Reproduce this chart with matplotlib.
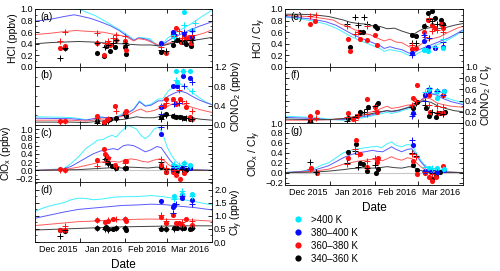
# chlorine partitioning, POLSTRACC winter 2015/16
import matplotlib.pyplot as plt
from matplotlib.lines import Line2D
from matplotlib.ticker import FixedLocator, MultipleLocator, NullFormatter

plt.rcParams['font.family'] = ['Liberation Sans', 'DejaVu Sans']
plt.rcParams['mathtext.default'] = 'regular'

# x axis: days since 1 Dec 2015
month_ticks = [31, 62, 91]
month_label_pos = [16, 47, 77, 107]
month_labels = ['Dec 2015', 'Jan 2016', 'Feb 2016', 'Mar 2016']
bins = ['>400 K', '380–400 K', '360–380 K', '340–360 K']

# ---- (a) HCl (ppbv) ----
a_line_cyan = [(0, 1.15), (15, 1.2), (25, 1.1), (28, 1.0), (31, 0.99), (36, 0.94), (42, 0.88), (49, 0.78), (55, 0.69),
               (59, 0.63), (65, 0.53), (69, 0.46), (72, 0.51), (75, 0.5), (79, 0.49), (84, 0.38), (88, 0.38),
               (91, 0.49), (95, 0.56), (101, 0.65), (108, 0.75), (115, 0.87), (122, 0.98)]
a_line_blue = [(0, 0.79), (10, 0.82), (20, 0.87), (27, 0.9), (31, 0.88), (38, 0.84), (45, 0.78), (52, 0.71), (58, 0.63),
               (63, 0.54), (68, 0.46), (71, 0.5), (75, 0.49), (79, 0.46), (84, 0.37), (88, 0.37), (91, 0.44),
               (95, 0.5), (100, 0.56), (106, 0.63), (113, 0.7), (122, 0.78)]
a_line_red = [(0, 0.56), (10, 0.58), (20, 0.61), (28, 0.63), (33, 0.62), (40, 0.61), (47, 0.6), (53, 0.57), (58, 0.55),
              (63, 0.52), (68, 0.45), (71, 0.49), (76, 0.47), (80, 0.43), (85, 0.38), (88, 0.37), (92, 0.41),
              (97, 0.45), (103, 0.5), (110, 0.54), (116, 0.58), (122, 0.64)]
a_line_black = [(0, 0.4), (10, 0.42), (20, 0.43), (30, 0.44), (40, 0.43), (50, 0.41), (60, 0.4), (66, 0.39), (72, 0.38),
                (80, 0.38), (86, 0.36), (90, 0.38), (96, 0.42), (104, 0.45), (112, 0.47), (122, 0.51)]
a_dot_cyan = [(95, 0.53), (103, 0.95), (108, 0.64)]
a_dot_blue = [(87, 0.42), (95, 0.6), (96, 0.55), (103, 0.57), (108, 0.52)]
a_dot_red = [(17, 0.32), (21, 0.37), (42.5, 0.42), (47.5, 0.2), (50, 0.4), (52, 0.38), (55.7, 0.46), (62, 0.44),
             (63, 0.3), (90, 0.25), (95, 0.57), (97, 0.67), (100.5, 0.43), (104, 0.49), (106, 0.51), (107.3, 0.42)]
a_dot_black = [(20.5, 0.32), (42.5, 0.25), (47.5, 0.19), (49, 0.37), (51.6, 0.28), (55, 0.34), (62, 0.34), (63, 0.22),
               (86.6, 0.26), (95, 0.38), (98, 0.47), (101, 0.43), (104, 0.4), (107.3, 0.49), (107.5, 0.36)]
a_plus_cyan = [(96, 0.52), (103, 0.72), (110, 0.76)]
a_plus_blue = [(96, 0.57), (103, 0.6), (108, 0.62)]
a_plus_red = [(17, 0.44), (21, 0.6), (42.5, 0.58), (48, 0.42), (50, 0.45), (54, 0.5), (56, 0.55), (62, 0.53),
              (87, 0.35), (96, 0.53), (99, 0.62), (101, 0.5), (104, 0.52), (108, 0.55)]
a_plus_black = [(17, 0.15), (21, 0.33), (42.5, 0.42), (48, 0.35), (50, 0.38), (54, 0.42), (56, 0.47), (62, 0.42),
                (63, 0.38), (87, 0.3), (90, 0.27), (96, 0.44), (99, 0.47), (101, 0.45), (104, 0.46), (108, 0.47)]

# ---- (b) ClONO2 (ppbv) ----
b_line_cyan = [(0, 0.17), (20, 0.16), (28, 0.145), (35, 0.11), (40, 0.1), (45, 0.17), (50, 0.14), (55, 0.15),
               (60, 0.23), (63, 0.24), (68, 0.33), (72, 0.5), (76, 0.4), (80, 0.43), (85, 0.54), (88, 0.54),
               (92, 0.71), (96, 0.79), (100, 0.85), (104, 0.79), (108, 0.68), (113, 0.57), (118, 0.47), (122, 0.42)]
b_line_blue = [(0, 0.14), (25, 0.13), (35, 0.1), (45, 0.16), (55, 0.15), (63, 0.23), (68, 0.32), (72, 0.48),
               (76, 0.39), (80, 0.41), (85, 0.5), (88, 0.5), (92, 0.6), (96, 0.66), (100, 0.7), (104, 0.67),
               (108, 0.6), (113, 0.52), (118, 0.46), (122, 0.42)]
b_line_red = [(0, 0.1), (25, 0.1), (35, 0.08), (45, 0.12), (55, 0.14), (60, 0.18), (65, 0.22), (70, 0.3), (73, 0.33),
              (77, 0.27), (82, 0.3), (86, 0.35), (90, 0.37), (95, 0.44), (100, 0.45), (105, 0.4), (110, 0.35),
              (116, 0.3), (122, 0.26)]
b_line_black = [(0, 0.06), (25, 0.06), (35, 0.05), (45, 0.08), (55, 0.1), (62, 0.12), (70, 0.17), (75, 0.15),
                (82, 0.15), (88, 0.19), (94, 0.2), (100, 0.19), (106, 0.16), (114, 0.12), (122, 0.1)]
b_dot_cyan = [(97, 1.12), (98, 0.9), (102, 1.11), (107, 1.12)]
b_dot_blue = [(87, 0.37), (95, 0.81), (98, 0.81), (102, 1.02), (107, 0.97)]
b_dot_red = [(17, 0.08), (21, 0.09), (42.5, 0.19), (47.5, 0.06), (50, 0.12), (55, 0.4), (62, 0.24), (63, 0.3),
             (89, 0.4), (90, 0.54), (95, 0.54), (97.5, 0.43), (100, 0.54), (104, 0.37), (107, 0.16), (108.5, 0.12)]
b_dot_black = [(42.5, 0.08), (47.5, 0.03), (50, 0.1), (52, 0.12), (55.7, 0.14), (62, 0.24), (63, 0.19), (87, 0.16),
               (90, 0.23), (95, 0.19), (97, 0.16), (100, 0.16), (103, 0.14), (107, 0.12)]
b_plus_cyan = [(97, 0.93), (102, 1.12), (108, 0.7)]
b_plus_blue = [(87, 0.22), (96, 0.43), (99, 0.45), (103, 0.8), (108, 0.9)]
b_plus_red = [(17, 0.07), (21, 0.09), (42.5, 0.14), (48, 0.08), (50, 0.12), (56, 0.28), (62, 0.22), (87, 0.4),
              (90, 0.45), (96, 0.5), (99, 0.72), (101, 0.5), (104, 0.45), (108, 0.3)]
b_plus_black = [(42.5, 0.05), (50, 0.08), (56, 0.12), (62, 0.2), (87, 0.12), (88, 0.18), (90, 0.2), (96, 0.18),
                (101, 0.15), (104, 0.15), (108, 0.12)]

# ---- (c) ClOx (ppbv) ----
c_line_cyan = [(0, 0.0), (10, 0.02), (20, 0.05), (25, 0.17), (30, 0.33), (35, 0.53), (40, 0.65), (43, 0.73),
               (47, 0.75), (50, 0.81), (53, 0.85), (56, 0.81), (59, 0.93), (62, 1.02), (64, 1.09), (67, 1.05),
               (70, 1.0), (73, 0.85), (76, 0.77), (79, 0.85), (82, 1.0), (85, 1.05), (88, 0.89), (91, 0.57),
               (94, 0.37), (97, 0.22), (100, 0.14), (105, 0.05), (110, 0.02), (122, 0.0)]
c_line_blue = [(0, 0.0), (15, 0.02), (20, 0.04), (25, 0.1), (30, 0.2), (35, 0.3), (40, 0.4), (45, 0.47), (50, 0.5),
               (54, 0.53), (57, 0.5), (61, 0.6), (64, 0.62), (68, 0.6), (72, 0.53), (76, 0.45), (80, 0.5),
               (84, 0.58), (87, 0.55), (90, 0.4), (93, 0.25), (96, 0.13), (100, 0.06), (106, 0.02), (122, 0.0)]
c_line_red = [(0, 0.0), (20, 0.02), (25, 0.05), (30, 0.08), (35, 0.12), (40, 0.16), (45, 0.2), (50, 0.22),
              (54, 0.22), (58, 0.2), (62, 0.25), (66, 0.28), (70, 0.26), (74, 0.22), (78, 0.2), (82, 0.25),
              (86, 0.28), (89, 0.24), (92, 0.14), (96, 0.06), (100, 0.02), (122, 0.0)]
c_line_black = [(0, 0.0), (30, 0.02), (40, 0.04), (50, 0.06), (55, 0.07), (60, 0.06), (65, 0.08), (72, 0.07),
                (78, 0.06), (84, 0.08), (88, 0.07), (92, 0.03), (98, 0.01), (122, 0.0)]
c_dot_cyan = [(95, 0.14), (98, 0.09), (103, 0.17), (107, 0.13)]
c_dot_blue = [(87, 0.89), (95, 0.03), (98, 0.05), (101.5, 0.06), (107, 0.05)]
c_dot_red = [(17, 0.04), (21, 0.0), (42.5, 0.25), (47.5, 0.51), (48.4, 0.41), (50, 0.3), (55, 0.13), (62, 0.22),
             (63, 0.22), (87, 0.13), (90, -0.03), (95, -0.03), (97, -0.11), (100, -0.2), (103, -0.07)]
c_dot_black = [(49, 0.27), (50, 0.17), (53, 0.11), (56, 0.05), (62, 0.05), (63, 0.07), (87, 0.09), (90, -0.03),
               (95, 0.01), (98, -0.02), (104, 0.01), (107, 0.05)]
c_plus_cyan = [(96, 0.15), (99, 0.12), (103, 0.17), (107, 0.1)]
c_plus_blue = [(87, 1.06), (96, 0.1), (99, 0.05), (103, 0.1)]
c_plus_red = [(17, 0.02), (21, 0.0), (42.5, 0.1), (48, 0.2), (50, 0.33), (56, 0.1), (62, 0.18), (87, 0.27),
              (90, 0.05), (96, 0.02), (99, 0.0)]
c_plus_black = [(48, 0.27), (50, 0.15), (55, 0.07), (62, 0.06), (87, 0.2), (90, 0.03), (96, 0.03), (101, 0.03)]

# ---- (d) Cly (ppbv) ----
d_line_cyan = [(0, 1.17), (5, 1.29), (10, 1.38), (20, 1.51), (25, 1.62), (30, 1.68), (35, 1.67), (40, 1.62),
               (45, 1.64), (55, 1.72), (63, 1.74), (70, 1.74), (80, 1.78), (88, 1.74), (95, 1.68), (100, 1.64),
               (110, 1.55), (122, 1.42)]
d_line_blue = [(0, 0.91), (10, 1.03), (20, 1.15), (30, 1.25), (40, 1.3), (50, 1.35), (60, 1.4), (70, 1.42),
               (80, 1.45), (90, 1.43), (100, 1.37), (110, 1.32), (122, 1.23)]
d_line_red = [(0, 0.63), (10, 0.68), (20, 0.73), (30, 0.78), (40, 0.8), (50, 0.83), (60, 0.85), (70, 0.87),
              (80, 0.88), (90, 0.87), (100, 0.86), (110, 0.84), (122, 0.8)]
d_line_black = [(0, 0.46), (20, 0.5), (40, 0.54), (60, 0.58), (80, 0.6), (100, 0.62), (122, 0.62)]
d_dot_cyan = [(96, 1.75), (101, 1.85), (108, 1.85)]
d_dot_blue = [(87, 1.58), (95, 1.35), (96, 1.4), (101, 1.7), (108, 1.62)]
d_dot_red = [(17, 0.45), (21, 0.47), (42.5, 0.85), (48, 0.78), (50, 0.82), (54, 0.88), (62, 0.88), (63, 0.82),
             (87, 0.97), (90, 0.72), (95, 1.03), (97, 0.72), (99, 0.72), (101, 0.65), (104, 0.9), (108, 0.65)]
d_dot_black = [(17, 0.45), (21, 0.42), (42.5, 0.55), (48, 0.55), (49, 0.58), (50, 0.5), (54, 0.5), (56, 0.55),
               (62, 0.55), (63, 0.47), (87, 0.5), (90, 0.5), (96, 0.55), (98, 0.55), (101, 0.55), (103, 0.55),
               (107, 0.5), (108, 0.55)]
d_plus_cyan = [(96, 1.65), (101, 1.95), (108, 1.75)]
d_plus_blue = [(95, 1.1), (97, 1.45), (101, 1.75), (108, 1.45)]
d_plus_red = [(21, 0.62), (42.5, 0.85), (50, 0.85), (56, 0.88), (62, 0.9), (87, 1.05), (90, 0.8), (95, 1.1),
              (101, 0.75), (108, 0.82)]
d_plus_black = [(17, 0.22), (21, 0.45), (42.5, 0.53), (48, 0.5), (50, 0.45), (56, 0.55), (62, 0.55), (87, 0.55),
                (90, 0.5), (96, 0.5), (101, 0.55), (108, 0.55)]

# ---- (e) HCl / Cly ----
e_line_cyan = [(0, 0.86), (10, 0.83), (20, 0.79), (28, 0.74), (35, 0.67), (40, 0.6), (45, 0.53), (50, 0.47),
               (55, 0.42), (60, 0.37), (65, 0.32), (68, 0.27), (72, 0.3), (76, 0.28), (80, 0.26), (85, 0.2),
               (88, 0.19), (92, 0.25), (96, 0.3), (100, 0.34), (106, 0.4), (112, 0.47), (118, 0.56), (122, 0.62)]
e_line_blue = [(0, 0.87), (10, 0.85), (20, 0.82), (28, 0.78), (35, 0.72), (40, 0.65), (45, 0.58), (50, 0.52),
               (55, 0.47), (60, 0.42), (65, 0.37), (68, 0.32), (72, 0.35), (76, 0.32), (80, 0.3), (85, 0.24),
               (88, 0.24), (92, 0.3), (96, 0.34), (100, 0.38), (106, 0.44), (112, 0.5), (118, 0.58), (122, 0.64)]
e_line_red = [(0, 0.89), (10, 0.88), (20, 0.86), (28, 0.83), (33, 0.81), (38, 0.74), (43, 0.7), (48, 0.64),
              (53, 0.58), (58, 0.56), (63, 0.5), (68, 0.45), (72, 0.48), (76, 0.43), (80, 0.42), (85, 0.35),
              (88, 0.33), (92, 0.37), (96, 0.44), (100, 0.48), (106, 0.52), (112, 0.6), (118, 0.67), (122, 0.7)]
e_line_black = [(0, 0.91), (10, 0.91), (20, 0.9), (30, 0.87), (40, 0.81), (45, 0.77), (50, 0.75), (55, 0.74),
                (60, 0.71), (65, 0.7), (70, 0.66), (75, 0.67), (80, 0.62), (85, 0.58), (88, 0.56), (91, 0.61),
                (95, 0.66), (100, 0.68), (105, 0.66), (110, 0.68), (116, 0.72), (122, 0.75)]
e_dot_cyan = [(95, 0.29), (98, 0.27), (108, 0.32)]
e_dot_blue = [(86.8, 0.24), (95.2, 0.44), (98.2, 0.35), (102.7, 0.32), (108, 0.35)]
e_dot_red = [(17, 0.75), (20.3, 0.79), (43, 0.49), (44.5, 0.28), (51.4, 0.49), (56, 0.47), (61.6, 0.55),
             (62.8, 0.38), (86.8, 0.31), (89.7, 0.33), (95.2, 0.61), (98.2, 0.81), (100.5, 0.72), (102.7, 0.67),
             (107, 0.75), (108.4, 0.68)]
e_dot_black = [(44.5, 0.35), (51.4, 0.61), (53.6, 0.6), (61.6, 0.7), (62.8, 0.68), (86.8, 0.55), (89.7, 0.53),
               (95.2, 0.7), (98.2, 0.93), (100.5, 0.97), (102.7, 0.84), (107, 0.81), (108.4, 0.75)]
e_plus_cyan = [(96, 0.32), (103, 0.35), (108, 0.48)]
e_plus_blue = [(87, 0.2), (95, 0.55), (99, 0.5), (108, 0.43)]
e_plus_red = [(17, 0.88), (21, 0.9), (42.5, 0.7), (48, 0.57), (50, 0.6), (56, 0.7), (87, 0.38), (96, 0.52),
              (99, 0.85), (101, 0.62), (104, 0.63), (108, 0.6)]
e_plus_black = [(42.5, 0.74), (48, 0.87), (50, 0.72), (54, 0.87), (56, 0.74), (87, 0.42), (90, 0.42), (96, 0.7),
                (99, 0.82), (101, 0.8), (104, 0.75), (108, 0.72)]

# ---- (f) ClONO2 / Cly ----
f_line_cyan = [(0, 0.12), (20, 0.1), (30, 0.07), (40, 0.05), (45, 0.06), (50, 0.08), (55, 0.1), (60, 0.13),
               (65, 0.16), (70, 0.19), (73, 0.17), (78, 0.2), (84, 0.25), (88, 0.27), (92, 0.35), (96, 0.45),
               (100, 0.53), (104, 0.52), (108, 0.47), (114, 0.42), (122, 0.36)]
f_line_blue = [(0, 0.1), (20, 0.08), (30, 0.06), (40, 0.06), (45, 0.08), (50, 0.1), (55, 0.12), (60, 0.15),
               (65, 0.19), (70, 0.22), (73, 0.2), (78, 0.22), (84, 0.28), (88, 0.3), (92, 0.38), (96, 0.47),
               (100, 0.52), (104, 0.5), (108, 0.44), (114, 0.38), (122, 0.33)]
f_line_red = [(0, 0.05), (20, 0.05), (30, 0.06), (40, 0.08), (45, 0.1), (50, 0.13), (55, 0.18), (60, 0.2),
              (65, 0.25), (70, 0.3), (73, 0.26), (78, 0.28), (84, 0.32), (88, 0.33), (92, 0.38), (96, 0.45),
              (100, 0.43), (104, 0.36), (108, 0.33), (114, 0.3), (122, 0.28)]
f_line_black = [(0, 0.07), (20, 0.06), (30, 0.06), (40, 0.08), (45, 0.1), (50, 0.12), (55, 0.15), (60, 0.17),
                (65, 0.2), (70, 0.22), (73, 0.21), (78, 0.23), (84, 0.27), (88, 0.31), (92, 0.36), (95, 0.4),
                (100, 0.37), (105, 0.3), (110, 0.26), (116, 0.22), (122, 0.2)]
f_dot_cyan = [(99, 0.6), (104, 0.57), (104.5, 0.44), (109, 0.57)]
f_dot_blue = [(88, 0.18), (96, 0.5), (99, 0.58), (104, 0.58), (109, 0.58)]
f_dot_red = [(17, 0.12), (21.7, 0.2), (43, 0.18), (46.8, 0.07), (49.5, 0.13), (56, 0.42), (62, 0.29), (62.8, 0.2),
             (88, 0.44), (90.6, 0.67), (96, 0.5), (99, 0.5), (99.5, 0.2), (105, 0.18), (108, 0.5), (108.4, 0.18)]
f_dot_black = [(17, 0.03), (43, 0.09), (51.4, 0.19), (57, 0.29), (63.5, 0.36), (88, 0.26), (90.6, 0.38),
               (96.6, 0.26), (99, 0.12), (103.4, 0.1), (106, 0.18), (109.5, 0.2)]
f_plus_cyan = [(96, 0.55), (99, 0.6), (104, 0.55), (108, 0.55)]
f_plus_blue = [(87, 0.12), (88, 0.16), (96, 0.4), (99, 0.62), (104, 0.58), (108, 0.5)]
f_plus_red = [(17, 0.08), (21, 0.09), (42.5, 0.1), (48, 0.06), (50, 0.12), (56, 0.16), (62, 0.22), (87, 0.32),
              (90, 0.4), (99, 0.33), (104, 0.3), (108, 0.28)]
f_plus_black = [(17, 0.01), (42.5, 0.04), (48, 0.1), (50, 0.14), (54, 0.2), (56, 0.25), (62, 0.3), (87, 0.28),
                (90, 0.35), (96, 0.32), (101, 0.2), (104, 0.18), (108, 0.16)]

# ---- (g) ClOx / Cly ----
g_line_cyan = [(0, 0.0), (10, 0.02), (20, 0.08), (25, 0.15), (30, 0.2), (35, 0.3), (40, 0.4), (45, 0.45),
               (50, 0.48), (55, 0.5), (60, 0.52), (63, 0.53), (66, 0.5), (70, 0.58), (73, 0.62), (76, 0.55),
               (80, 0.52), (84, 0.57), (87, 0.55), (90, 0.4), (93, 0.25), (96, 0.14), (100, 0.08), (105, 0.03),
               (110, 0.01), (122, 0.0)]
g_line_blue = [(0, 0.0), (10, 0.02), (20, 0.05), (30, 0.14), (35, 0.22), (40, 0.3), (45, 0.36), (50, 0.4),
               (55, 0.42), (60, 0.45), (63, 0.43), (67, 0.42), (70, 0.47), (73, 0.52), (76, 0.47), (80, 0.42),
               (84, 0.47), (87, 0.48), (90, 0.35), (93, 0.22), (96, 0.12), (100, 0.06), (105, 0.02), (122, 0.0)]
g_line_red = [(0, 0.0), (10, 0.01), (20, 0.03), (30, 0.07), (35, 0.12), (40, 0.17), (45, 0.2), (50, 0.23),
              (55, 0.25), (60, 0.27), (63, 0.25), (67, 0.24), (70, 0.28), (73, 0.32), (76, 0.28), (80, 0.25),
              (84, 0.3), (87, 0.28), (90, 0.2), (93, 0.12), (96, 0.06), (100, 0.02), (122, 0.0)]
g_line_black = [(0, 0.0), (20, 0.01), (30, 0.03), (40, 0.06), (45, 0.08), (50, 0.09), (55, 0.1), (60, 0.09),
                (65, 0.1), (70, 0.12), (75, 0.1), (80, 0.09), (85, 0.12), (88, 0.11), (92, 0.05), (96, 0.02),
                (100, 0.01), (122, 0.0)]
g_dot_cyan = [(99, 0.1), (104, 0.1), (109, 0.07)]
g_dot_blue = [(88, 0.55), (96, 0.03), (99, 0.05), (104, 0.02), (109, 0.05)]
g_dot_red = [(17.8, 0.1), (21.7, -0.01), (43, 0.29), (49, 0.65), (51.4, 0.37), (56, 0.12), (62.8, 0.22),
             (64, 0.29), (88, 0.24), (90.6, -0.02), (96, 0.0), (99, -0.08), (100.5, -0.17), (103.4, -0.08),
             (108.4, 0.14)]
g_dot_black = [(43, 0.41), (49, 0.58), (51.4, 0.2), (53.6, 0.17), (56, 0.03), (62.3, 0.0), (64, 0.08), (88, 0.15),
               (90.6, 0.05), (96, 0.01), (100.5, -0.12), (103.4, -0.07), (106, 0.02)]
g_plus_cyan = [(96, 0.12), (101, 0.1), (108, 0.08)]
g_plus_blue = [(87, 0.66), (96, 0.03), (101, 0.05), (104, 0.02)]
g_plus_red = [(17, 0.08), (42.5, 0.18), (48, 0.47), (50, 0.38), (56, 0.24), (62, 0.3), (87, 0.37), (90, 0.32),
              (96, 0.02), (101, -0.02)]
g_plus_black = [(17, 0.22), (21, 0.02), (42.5, 0.2), (48, 0.43), (50, 0.12), (56, 0.1), (62, 0.15), (87, 0.4),
                (90, 0.33), (96, 0.02), (101, 0.0)]

dot_colors = ['#00e8ff', '#0a0aff', '#ff1010', '#000000']
line_colors = ['#40f0ff', '#5a5aff', '#ff5a5a', '#404040']

fig = plt.figure(figsize=(5, 2.71), dpi=100)


def unzip(pts):
    return [p[0] for p in pts], [p[1] for p in pts]


def panel(rect, lines, dots, pluses, ylim, major, minor, ylabel, tag, right=False, bottom=False, zero=False):
    ax = fig.add_axes(rect)
    if zero:
        ax.axhline(0, color='#c8c8c8', lw=0.8, zorder=0)
    for pts, c in zip(lines, line_colors):
        x, y = unzip(pts)
        ax.plot(x, y, color=c, lw=0.7, zorder=1)
    for pts, c in zip(dots[::-1], dot_colors[::-1]):
        x, y = unzip(pts)
        ax.plot(x, y, 'o', color=c, ms=3.7, mew=0, zorder=2)
    for pts, c in zip(pluses[::-1], dot_colors[::-1]):
        x, y = unzip(pts)
        ax.plot(x, y, '+', color=c, ms=4.5, mew=0.7, zorder=3)
    ax.set_xlim(0, 122)
    ax.set_ylim(*ylim)
    ax.xaxis.set_major_locator(FixedLocator(month_ticks))
    ax.xaxis.set_major_formatter(NullFormatter())
    ax.xaxis.set_minor_locator(FixedLocator(month_label_pos))
    if bottom:
        ax.set_xticklabels(month_labels, minor=True)
    else:
        ax.xaxis.set_minor_formatter(NullFormatter())
    ax.yaxis.set_major_locator(MultipleLocator(major))
    ax.yaxis.set_minor_locator(MultipleLocator(minor))
    ax.tick_params(axis='both', which='major', direction='in', length=3, width=0.6,
                   top=True, right=True, labelsize=6.5, pad=1.5)
    ax.tick_params(axis='y', which='minor', direction='in', length=1.5, width=0.5, left=True, right=True)
    ax.tick_params(axis='x', which='minor', length=0, labelsize=6.5, pad=2.5)
    if right:
        ax.tick_params(axis='y', labelleft=False, labelright=True)
        ax.yaxis.set_label_position('right')
    ax.set_ylabel(ylabel, fontsize=7.5, labelpad=1.5)
    for s in ax.spines.values():
        s.set_linewidth(0.6)
    ax.text(0.03, 0.95, tag, transform=ax.transAxes, fontsize=7.2, va='top', ha='left')
    return ax


lc = [35 / 500, 177 / 500]
rc = [285 / 500, 178 / 500]

panel([lc[0], 204 / 271, lc[1], 58 / 271],
      [a_line_cyan, a_line_blue, a_line_red, a_line_black],
      [a_dot_cyan, a_dot_blue, a_dot_red, a_dot_black],
      [a_plus_cyan, a_plus_blue, a_plus_red, a_plus_black],
      (0, 1.0), 0.2, 0.1, 'HCl (ppbv)', '(a)')
panel([lc[0], 146 / 271, lc[1], 58 / 271],
      [b_line_cyan, b_line_blue, b_line_red, b_line_black],
      [b_dot_cyan, b_dot_blue, b_dot_red, b_dot_black],
      [b_plus_cyan, b_plus_blue, b_plus_red, b_plus_black],
      (0, 1.2), 0.4, 0.2, 'ClONO$_2$ (ppbv)', '(b)', right=True)
panel([lc[0], 89 / 271, lc[1], 57 / 271],
      [c_line_cyan, c_line_blue, c_line_red, c_line_black],
      [c_dot_cyan, c_dot_blue, c_dot_red, c_dot_black],
      [c_plus_cyan, c_plus_blue, c_plus_red, c_plus_black],
      (-0.28, 1.1), 0.2, 0.1, 'ClO$_x$ (ppbv)', '(c)', zero=True)
ax_d = panel([lc[0], 29 / 271, lc[1], 60 / 271],
             [d_line_cyan, d_line_blue, d_line_red, d_line_black],
             [d_dot_cyan, d_dot_blue, d_dot_red, d_dot_black],
             [d_plus_cyan, d_plus_blue, d_plus_red, d_plus_black],
             (0, 2.3), 0.5, 0.25, 'Cl$_y$ (ppbv)', '(d)', right=True, bottom=True)
ax_d.set_xlabel('Date', fontsize=8.5, labelpad=3)

panel([rc[0], 204 / 271, rc[1], 58 / 271],
      [e_line_cyan, e_line_blue, e_line_red, e_line_black],
      [e_dot_cyan, e_dot_blue, e_dot_red, e_dot_black],
      [e_plus_cyan, e_plus_blue, e_plus_red, e_plus_black],
      (0, 1.0), 0.2, 0.1, 'HCl / Cl$_y$', '(e)')
panel([rc[0], 148 / 271, rc[1], 56 / 271],
      [f_line_cyan, f_line_blue, f_line_red, f_line_black],
      [f_dot_cyan, f_dot_blue, f_dot_red, f_dot_black],
      [f_plus_cyan, f_plus_blue, f_plus_red, f_plus_black],
      (0, 1.0), 0.2, 0.1, 'ClONO$_2$ / Cl$_y$', '(f)', right=True)
ax_g = panel([rc[0], 86 / 271, rc[1], 62 / 271],
             [g_line_cyan, g_line_blue, g_line_red, g_line_black],
             [g_dot_cyan, g_dot_blue, g_dot_red, g_dot_black],
             [g_plus_cyan, g_plus_blue, g_plus_red, g_plus_black],
             (-0.25, 1.0), 0.2, 0.1, 'ClO$_x$ / Cl$_y$', '(g)', bottom=True, zero=True)
ax_g.set_xlabel('Date', fontsize=8.5, labelpad=3)

handles = [Line2D([], [], ls='none', marker='o', ms=4.5, mew=0, color=c) for c in dot_colors]
fig.legend(handles, bins, loc='upper left', bbox_to_anchor=(287 / 500, 1 - 210 / 271), frameon=False,
           fontsize=7, handlelength=1.2, handletextpad=0.8, labelspacing=0.3, borderpad=0)

fig.savefig('out.png', dpi=100)
